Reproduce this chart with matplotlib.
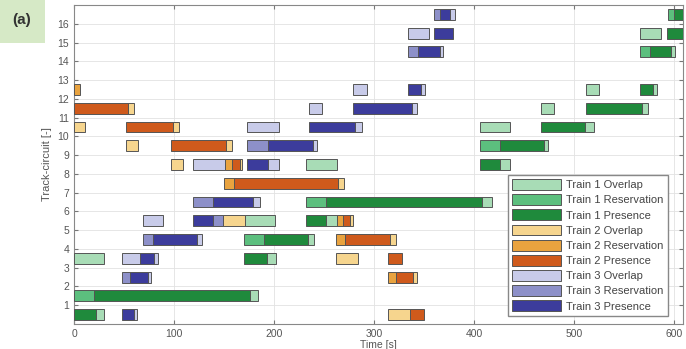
import matplotlib.pyplot as plt
from matplotlib.patches import Patch, Rectangle

plt.rcParams['font.family'] = ['Liberation Sans', 'DejaVu Sans']

# (row, start, end) in seconds; row r is drawn between r and r+1
t1_overlap = [(3, 0, 30), (0, 22, 30), (1, 176, 184), (3, 193, 202), (4, 234, 240),
              (5, 171, 201), (5, 252, 263), (6, 408, 418), (8, 232, 263), (8, 426, 436),
              (9, 470, 474), (10, 406, 436), (10, 511, 520), (11, 467, 480), (11, 568, 574),
              (12, 512, 525), (12, 579, 583), (14, 597, 601), (15, 566, 587)]
t1_reservation = [(1, 0, 20), (4, 170, 190), (6, 232, 252), (9, 406, 426),
                  (14, 566, 576), (16, 594, 600)]
t1_presence = [(0, 0, 22), (1, 20, 176), (3, 170, 193), (4, 190, 234), (5, 232, 252),
               (6, 252, 408), (8, 406, 426), (9, 426, 470), (10, 467, 511), (11, 512, 568),
               (12, 566, 579), (14, 576, 597), (15, 593, 609), (16, 600, 610)]

t2_overlap = [(0, 314, 336), (2, 339, 343), (3, 262, 284), (4, 316, 322), (5, 149, 171),
              (5, 276, 279), (7, 264, 270), (8, 97, 109), (8, 166, 168), (9, 52, 64),
              (9, 152, 158), (10, 0, 11), (10, 99, 105), (11, 54, 60)]
t2_reservation = [(2, 314, 322), (4, 262, 271), (5, 263, 269), (7, 150, 160),
                  (8, 151, 158), (12, 0, 6)]
t2_presence = [(0, 336, 350), (2, 322, 339), (3, 314, 328), (4, 271, 316), (5, 269, 276),
               (7, 160, 264), (8, 158, 166), (9, 97, 152), (10, 52, 99), (11, 0, 54)]

t3_overlap = [(0, 60, 63), (2, 74, 77), (3, 48, 66), (3, 80, 84), (4, 123, 128),
              (5, 69, 89), (6, 179, 186), (8, 119, 151), (8, 194, 205), (9, 239, 243),
              (10, 173, 205), (10, 281, 288), (11, 235, 248), (11, 338, 343),
              (12, 279, 293), (12, 347, 351), (14, 366, 369), (15, 334, 355), (16, 376, 381)]
t3_reservation = [(2, 48, 56), (4, 69, 79), (5, 139, 149), (6, 119, 139), (9, 173, 194),
                  (14, 334, 344), (16, 360, 366)]
t3_presence = [(0, 48, 60), (2, 56, 74), (3, 66, 80), (4, 79, 123), (5, 119, 139),
               (6, 139, 179), (8, 173, 194), (9, 194, 239), (10, 235, 281), (11, 279, 338),
               (12, 334, 347), (14, 344, 366), (15, 360, 379), (16, 366, 376)]

series = [
    ('Train 1 Overlap', t1_overlap, '#a8dcb6'),
    ('Train 1 Reservation', t1_reservation, '#5cbf7e'),
    ('Train 1 Presence', t1_presence, '#1f8a3c'),
    ('Train 2 Overlap', t2_overlap, '#f6d58e'),
    ('Train 2 Reservation', t2_reservation, '#e9a33f'),
    ('Train 2 Presence', t2_presence, '#cf5a1c'),
    ('Train 3 Overlap', t3_overlap, '#c8cbe9'),
    ('Train 3 Reservation', t3_reservation, '#8d90c9'),
    ('Train 3 Presence', t3_presence, '#3c3c9c'),
]

fig = plt.figure(figsize=(6.86, 3.49), dpi=100)
ax = fig.add_axes([74 / 686, 1 - 324 / 349, 609 / 686, 319 / 349])

handles = []
for label, segs, color in series:
    rows = [s[0] + 0.5 for s in segs]
    lefts = [s[1] for s in segs]
    widths = [s[2] - s[1] for s in segs]
    ax.barh(rows, widths, left=lefts, height=0.58, color=color,
            edgecolor='#555555', linewidth=0.7, zorder=3)
    handles.append(Patch(facecolor=color, edgecolor='#555555', linewidth=0.7, label=label))

ax.set_xlim(0, 609)
ax.set_ylim(0, 17)
ax.set_xticks(range(0, 601, 100))
ax.set_yticks(range(1, 17))
ax.tick_params(direction='in', top=True, right=True, labelsize=7.5,
               labelcolor='#555555', color='#777777', length=3)
ax.grid(True, color='#e2e2e2', linewidth=0.6, zorder=0)
for sp in ax.spines.values():
    sp.set_color('#888888')
ax.set_xlabel('Time [s]', fontsize=7.5, color='#555555', labelpad=1)
ax.set_ylabel('Track-circuit [-]', fontsize=8, color='#555555', labelpad=4)

leg = ax.legend(handles=handles, loc='lower right', bbox_to_anchor=(0.975, 0.025),
                borderaxespad=0, fontsize=8, handlelength=4.4, handleheight=1.12,
                labelspacing=0.36, handletextpad=0.45, borderpad=0.4, fancybox=False,
                framealpha=1, edgecolor='#888888')
for t in leg.get_texts():
    t.set_color('#444444')

fig.patches.append(Rectangle((0, 1 - 43 / 349), 45 / 686, 43 / 349,
                             transform=fig.transFigure, facecolor='#d6e9c6',
                             edgecolor='none'))
fig.text(22 / 686, 1 - 20 / 349, '(a)', fontsize=11, fontweight='bold',
         color='#333333', ha='center', va='center')

fig.savefig('out.png', dpi=100)
